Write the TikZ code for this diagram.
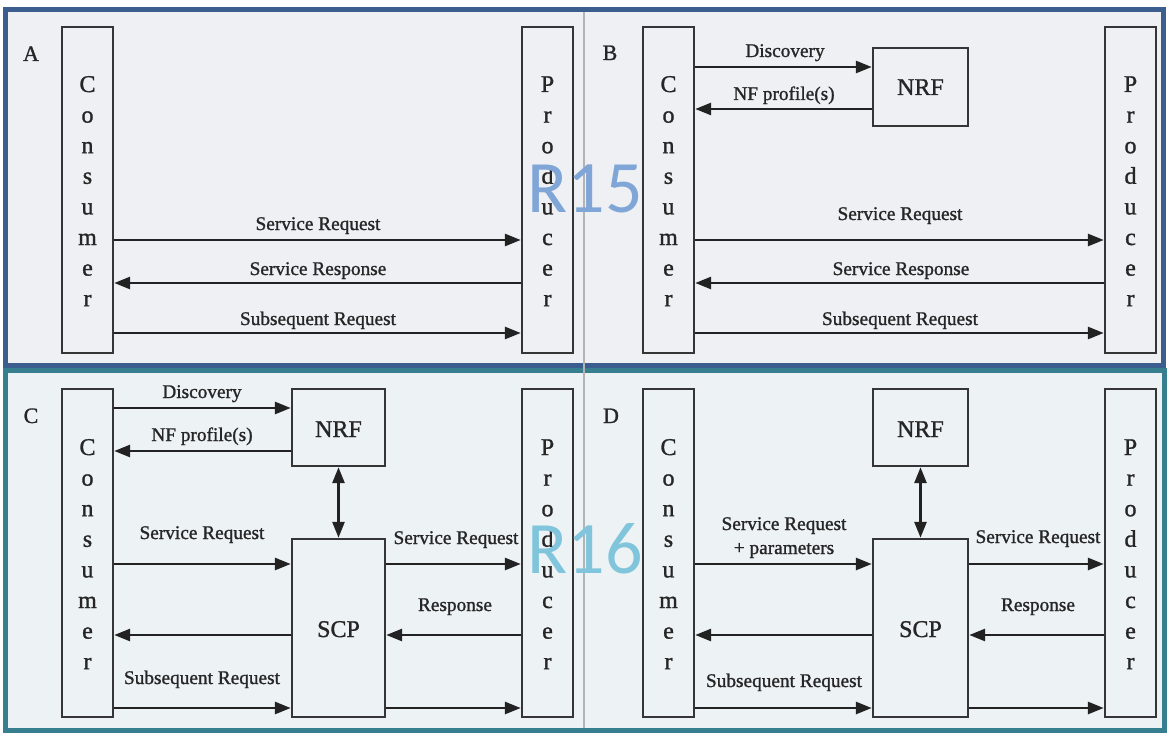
\documentclass[tikz,border=0pt]{standalone}
\usepackage{fontspec}
\setmainfont{Liberation Serif}
\newfontfamily\tms[FakeBold=1.2]{Liberation Serif}
\newfontfamily\wmfont{Carlito}
\usetikzlibrary{arrows.meta}
\definecolor{topbg}{HTML}{EFF0F4}
\definecolor{botbg}{HTML}{EDF2F4}
\definecolor{topfr}{HTML}{3B5E8E}
\definecolor{botfr}{HTML}{377E8F}
\definecolor{boxc}{HTML}{353535}
\definecolor{arrc}{HTML}{222222}
\definecolor{txtc}{HTML}{262626}
\definecolor{divc}{HTML}{B4B4B4}
\definecolor{wmblue}{HTML}{7FA6D6}
\definecolor{wmcyan}{HTML}{80C5DB}
\tikzset{
  box/.style={draw=boxc, line width=2.4pt, inner sep=0pt, minimum width=51pt, minimum height=326pt},
  fbox/.style={draw=boxc, line width=2.4pt, inner sep=0pt, minimum width=95pt},
  lbl/.style={font=\tms\fontsize{19.3}{21}\selectfont, anchor=base, inner sep=0pt, text=txtc},
  vlet/.style={font=\tms\fontsize{24}{24}\selectfont, anchor=base, inner sep=0pt, text=txtc},
  big/.style={font=\tms\fontsize{24}{26}\selectfont, anchor=base, inner sep=0pt, text=txtc},
  panel/.style={font=\tms\fontsize{22}{24}\selectfont, anchor=base, inner sep=0pt, text=txtc},
  arr/.style={draw=arrc, line width=2.8pt, -{Triangle[length=16pt,width=12pt]}},
  darr/.style={draw=arrc, line width=2.8pt, {Triangle[length=16pt,width=12pt]}-{Triangle[length=16pt,width=12pt]}},
  wm/.style={font=\wmfont\fontsize{74}{80}\selectfont, anchor=base, inner sep=0pt},
}
\begin{document}
\begin{tikzpicture}[x=1pt,y=-1pt]
\useasboundingbox (0,0) rectangle (1174,743);
\fill[white] (0,0) rectangle (1174,743);
% frames
\draw[topfr, line width=5pt, fill=topbg] (5.5,9.5) rectangle (1163.5,365);
\draw[botfr, line width=5pt, fill=botbg] (5.5,370) rectangle (1164.5,730.5);
\draw[divc, line width=1.5pt] (584,12) -- (584,728);

% ---------- Panel A ----------
\node[panel] (labA) at (31,61) {A};
\node[box] (consA) at (87.5,190) {};
\node[box] (prodA) at (547.5,190) {};
\foreach \l [count=\i from 0] in {C,o,n,s,u,m,e,r}
  \node[vlet] (cA\i) at (87.5,92+30.6*\i) {\l};
\foreach \l [count=\i from 0] in {P,r,o,d,u,c,e,r}
  \node[vlet] (pA\i) at (547.5,92+30.6*\i) {\l};
\draw[arr] (consA.east |- 0,240) -- (prodA.west |- 0,240);
\draw[arr] (prodA.west |- 0,283) -- (consA.east |- 0,283);
\draw[arr] (consA.east |- 0,333) -- (prodA.west |- 0,333);
\node[lbl] (a1) at (318,230) {Service Request};
\node[lbl] (a2) at (318,275) {Service Response};
\node[lbl] (a3) at (318,325) {Subsequent Request};

% ---------- Panel B ----------
\node[panel] (labB) at (610,60) {B};
\node[box] (consB) at (668.5,190) {};
\node[box] (prodB) at (1130.5,190) {};
\foreach \l [count=\i from 0] in {C,o,n,s,u,m,e,r}
  \node[vlet] (cB\i) at (668.5,92+30.6*\i) {\l};
\foreach \l [count=\i from 0] in {P,r,o,d,u,c,e,r}
  \node[vlet] (pB\i) at (1130.5,92+30.6*\i) {\l};
\node[fbox, minimum height=78pt] (nrfB) at (920.5,87) {};
\node[big] (nrfBt) at (920.5,95) {NRF};
\draw[arr] (consB.east |- 0,67) -- (nrfB.west |- 0,67);
\draw[arr] (nrfB.west |- 0,109) -- (consB.east |- 0,109);
\node[lbl] (b0) at (785,57) {Discovery};
\node[lbl] (b00) at (784,100) {NF profile(s)};
\draw[arr] (consB.east |- 0,240) -- (prodB.west |- 0,240);
\draw[arr] (prodB.west |- 0,283) -- (consB.east |- 0,283);
\draw[arr] (consB.east |- 0,333) -- (prodB.west |- 0,333);
\node[lbl] (b1) at (900,220) {Service Request};
\node[lbl] (b2) at (901,275) {Service Response};
\node[lbl] (b3) at (900,325) {Subsequent Request};

% ---------- Panel C ----------
\node[panel] (labC) at (31,423) {C};
\node[box, minimum height=328pt] (consC) at (87.5,553) {};
\node[box, minimum height=328pt] (prodC) at (547.5,553) {};
\foreach \l [count=\i from 0] in {C,o,n,s,u,m,e,r}
  \node[vlet] (cC\i) at (87.5,455+30.6*\i) {\l};
\foreach \l [count=\i from 0] in {P,r,o,d,u,c,e,r}
  \node[vlet] (pC\i) at (547.5,455+30.6*\i) {\l};
\node[fbox, minimum width=93pt, minimum height=77pt] (nrfC) at (338.5,427.5) {};
\node[big] (nrfCt) at (338.5,437) {NRF};
\node[fbox, minimum width=93pt, minimum height=178pt] (scpC) at (338.5,628) {};
\node[big] (scpCt) at (338.5,637) {SCP};
\draw[arr] (consC.east |- 0,408) -- (nrfC.west |- 0,408);
\draw[arr] (nrfC.west |- 0,451) -- (consC.east |- 0,451);
\draw[darr] (nrfC.south) -- (scpC.north);
\draw[arr] (consC.east |- 0,564) -- (scpC.west |- 0,564);
\draw[arr] (scpC.east |- 0,564) -- (prodC.west |- 0,564);
\draw[arr] (prodC.west |- 0,635) -- (scpC.east |- 0,635);
\draw[arr] (scpC.west |- 0,635) -- (consC.east |- 0,635);
\draw[arr] (consC.east |- 0,708) -- (scpC.west |- 0,708);
\draw[arr] (scpC.east |- 0,708) -- (prodC.west |- 0,708);
\node[lbl] (c0) at (202,398) {Discovery};
\node[lbl] (c00) at (202,441) {NF profile(s)};
\node[lbl] (c1) at (202,539) {Service Request};
\node[lbl] (c2) at (456,544) {Service Request};
\node[lbl] (c3) at (455,611) {Response};
\node[lbl] (c4) at (202,684) {Subsequent Request};

% ---------- Panel D ----------
\node[panel] (labD) at (611,423) {D};
\node[box, minimum height=328pt] (consD) at (668.5,553) {};
\node[box, minimum height=328pt] (prodD) at (1130.5,553) {};
\foreach \l [count=\i from 0] in {C,o,n,s,u,m,e,r}
  \node[vlet] (cD\i) at (668.5,455+30.6*\i) {\l};
\foreach \l [count=\i from 0] in {P,r,o,d,u,c,e,r}
  \node[vlet] (pD\i) at (1130.5,455+30.6*\i) {\l};
\node[fbox, minimum height=77pt] (nrfD) at (920.5,427.5) {};
\node[big] (nrfDt) at (920.5,437) {NRF};
\node[fbox, minimum height=178pt] (scpD) at (920.5,628) {};
\node[big] (scpDt) at (920.5,637) {SCP};
\draw[darr] (nrfD.south) -- (scpD.north);
\draw[arr] (consD.east |- 0,564) -- (scpD.west |- 0,564);
\draw[arr] (scpD.east |- 0,564) -- (prodD.west |- 0,564);
\draw[arr] (prodD.west |- 0,635) -- (scpD.east |- 0,635);
\draw[arr] (scpD.west |- 0,635) -- (consD.east |- 0,635);
\draw[arr] (consD.east |- 0,708) -- (scpD.west |- 0,708);
\draw[arr] (scpD.east |- 0,708) -- (prodD.west |- 0,708);
\node[lbl] (d1) at (784,530) {Service Request};
\node[lbl] (d1b) at (784,554) {+ parameters};
\node[lbl] (d2) at (1038,543) {Service Request};
\node[lbl] (d3) at (1038,611) {Response};
\node[lbl] (d4) at (784,687) {Subsequent Request};

% watermarks
\node[wm, text=wmblue] (r15) at (585,213) {R15};
\node[wm, text=wmcyan] (r16) at (585,573) {R16};
\end{tikzpicture}
\end{document}
